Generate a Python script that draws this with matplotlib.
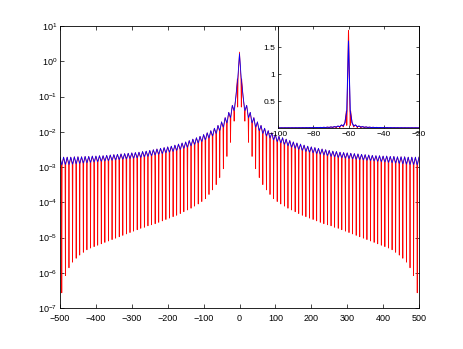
import numpy as np
import matplotlib
matplotlib.use("Agg")
import matplotlib.pyplot as plt

plt.rcParams['font.family'] = ['Liberation Sans', 'DejaVu Sans']
plt.rcParams['mathtext.default'] = 'regular'

# ---- data (log10 of the magnitudes, symmetric about x = 0) ----
red_peak = 0.26          # red value at x = 0
blue_peak = 0.21         # blue value at x = 0

# positions of the red dips (|x|) and of the band tops (|x|)
dip_x = list(range(5, 500, 10))
top_x = list(range(10, 501, 10))

# upper edge of the band (at top_x)
upper = [-1.00, -1.25, -1.45, -1.60, -1.72, -1.82, -1.90, -1.97, -2.03, -2.08,
         -2.13, -2.17, -2.21, -2.25, -2.29, -2.32, -2.35, -2.38, -2.41, -2.43,
         -2.45, -2.47, -2.49, -2.51, -2.53, -2.55, -2.56, -2.58, -2.59, -2.60,
         -2.61, -2.62, -2.63, -2.64, -2.65, -2.66, -2.67, -2.68, -2.68, -2.69,
         -2.69, -2.70, -2.70, -2.71, -2.71, -2.71, -2.72, -2.72, -2.72, -2.72]

# lower edge of the blue band (at dip_x)
blue_lo = [-0.50, -1.40, -1.60, -1.75, -1.87, -1.97, -2.05, -2.12, -2.18, -2.23,
           -2.28, -2.32, -2.36, -2.40, -2.44, -2.47, -2.50, -2.53, -2.56, -2.58,
           -2.60, -2.62, -2.64, -2.66, -2.68, -2.70, -2.71, -2.73, -2.74, -2.75,
           -2.76, -2.77, -2.78, -2.79, -2.80, -2.81, -2.82, -2.83, -2.84, -2.85,
           -2.86, -2.87, -2.88, -2.89, -2.90, -2.91, -2.92, -2.93, -2.93, -2.94]

# bottom of the red dips (at dip_x)
red_lo = [-1.30, -1.70, -2.30, -2.70, -3.05, -3.30, -3.50, -3.65, -3.78, -3.90,
          -3.98, -4.05, -4.11, -4.17, -4.22, -4.27, -4.32, -4.37, -4.41, -4.45,
          -4.49, -4.53, -4.57, -4.61, -4.64, -4.67, -4.71, -4.74, -4.78, -4.82,
          -4.86, -4.90, -4.94, -4.98, -5.02, -5.06, -5.10, -5.14, -5.18, -5.22,
          -5.26, -5.30, -5.35, -5.42, -5.50, -5.59, -5.70, -5.86, -6.08, -6.57]

main_xticks = [-500, -400, -300, -200, -100, 0, 100, 200, 300, 400, 500]
main_ydecades = [-7, -6, -5, -4, -3, -2, -1, 0, 1]
inset_xtick_labels = [-100, -80, -60, -40, -20]
inset_yticks = [0.5, 1, 1.5]

# ---- build the polylines from the values above ----
def half_red():
    xs, ys = [0], [red_peak]
    for d, t, lo, rl, up in zip(dip_x, top_x, blue_lo, red_lo, upper):
        xs += [d - 1, d, d + 1, t]
        ys += [lo, rl, lo, up]
    return xs, ys

def half_blue():
    xs, ys = [0], [blue_peak]
    for d, t, lo, up in zip(dip_x, top_x, blue_lo, upper):
        xs += [d, t]
        ys += [lo, up]
    return xs, ys

def mirror(xs, ys):
    x = np.array(xs, float)
    y = np.array(ys, float)
    X = np.concatenate([-x[::-1], x[1:]])
    Y = np.concatenate([y[::-1], y[1:]])
    return X, 10.0 ** Y

rx, ry = mirror(*half_red())
bx, by = mirror(*half_blue())

# ---- figure ----
W, H = 463, 349
fig = plt.figure(figsize=(W / 100, H / 100), dpi=100)
ax = fig.add_axes([60 / W, 1 - 308 / H, 359 / W, 282 / H])
ax.plot(rx, ry, color='#ff0000', lw=0.55)
ax.plot(bx, by, color='#0000ff', lw=0.55)
ax.set_yscale('log')
ax.set_xlim(-500, 500)
ax.set_ylim(1e-7, 1e1)
ax.set_xticks(main_xticks)
ax.set_xticklabels([str(v).replace('-', '\u2212') for v in main_xticks])
ax.set_yticks([10.0 ** d for d in main_ydecades])
ax.set_yticklabels([r'$10^{%d}$' % d for d in main_ydecades])
ax.yaxis.set_minor_locator(matplotlib.ticker.NullLocator())
ax.tick_params(direction='in', top=True, right=True, length=3, width=0.5,
               labelsize=6.5)
ax.tick_params(axis='x', pad=4.5)
ax.tick_params(axis='y', pad=2)
for s in ax.spines.values():
    s.set_linewidth(0.6)

# inset: same data in linear scale around the centre
axi = fig.add_axes([278 / W, 1 - 128 / H, 141 / W, 102 / H])
axi.plot(rx, ry, color='#ff0000', lw=0.7)
axi.plot(bx, by, color='#0000ff', lw=0.7)
axi.set_xlim(-200, 200)
axi.set_ylim(0, 1.9)
axi.set_xticks([-200, -100, 0, 100, 200])
axi.set_xticklabels([str(v).replace('-', '\u2212') for v in inset_xtick_labels])
axi.set_yticks(inset_yticks)
axi.set_yticklabels(['0.5', '1', '1.5'])
axi.tick_params(direction='in', top=True, right=True, length=2, width=0.5,
                labelsize=6, pad=2)
for s in axi.spines.values():
    s.set_linewidth(0.6)

fig.savefig('out.png', dpi=100)
